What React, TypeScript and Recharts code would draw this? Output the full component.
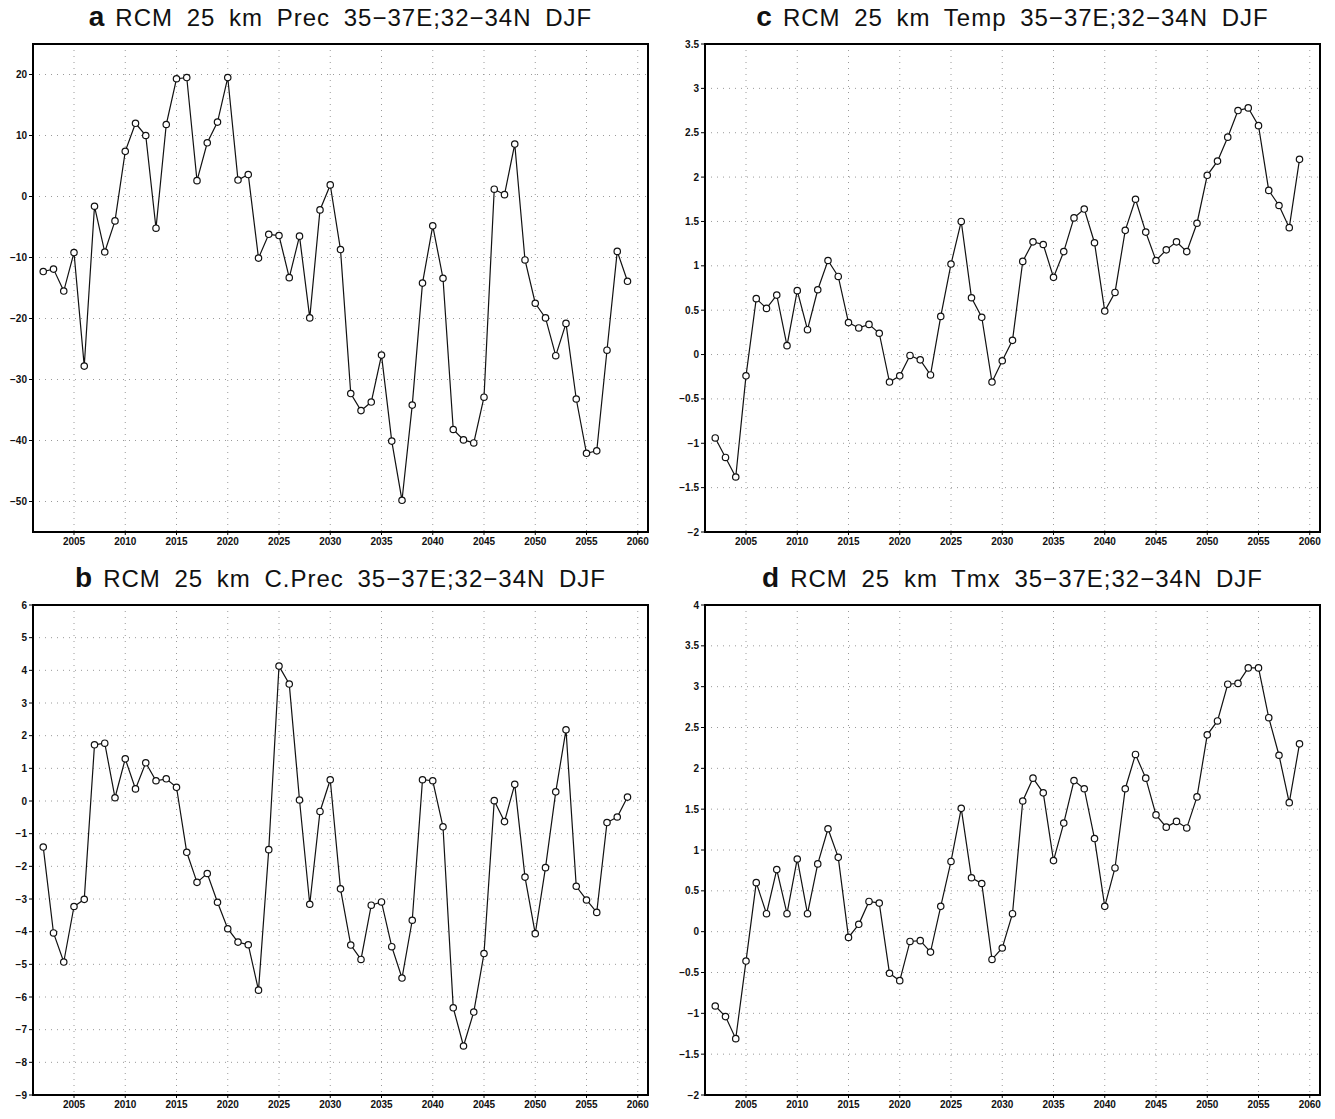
import React from 'react';
import { LineChart, Line, XAxis, YAxis, CartesianGrid } from 'recharts';

// years 2002..2059, one value per DJF season
const years = [
  2002, 2003, 2004, 2005, 2006, 2007, 2008, 2009, 2010, 2011,
  2012, 2013, 2014, 2015, 2016, 2017, 2018, 2019, 2020, 2021,
  2022, 2023, 2024, 2025, 2026, 2027, 2028, 2029, 2030, 2031,
  2032, 2033, 2034, 2035, 2036, 2037, 2038, 2039, 2040, 2041,
  2042, 2043, 2044, 2045, 2046, 2047, 2048, 2049, 2050, 2051,
  2052, 2053, 2054, 2055, 2056, 2057, 2058, 2059,
];

const precValues = [
  -12.3, -11.9, -15.5, -9.2, -27.8, -1.6, -9.1, -4.0, 7.4, 12.0,
  10.0, -5.2, 11.8, 19.3, 19.5, 2.6, 8.8, 12.2, 19.5, 2.7,
  3.6, -10.1, -6.2, -6.4, -13.3, -6.5, -19.9, -2.2, 1.9, -8.7,
  -32.3, -35.1, -33.7, -26.0, -40.1, -49.8, -34.2, -14.2, -4.8, -13.4,
  -38.2, -39.9, -40.4, -32.9, 1.2, 0.3, 8.6, -10.4, -17.5, -19.9,
  -26.1, -20.8, -33.2, -42.1, -41.7, -25.2, -9.0, -13.9,
];

const cPrecValues = [
  -1.41, -4.04, -4.93, -3.23, -3.01, 1.72, 1.77, 0.1, 1.29, 0.37,
  1.17, 0.62, 0.68, 0.42, -1.57, -2.49, -2.22, -3.1, -3.91, -4.32,
  -4.4, -5.79, -1.49, 4.13, 3.58, 0.03, -3.16, -0.32, 0.65, -2.69,
  -4.41, -4.85, -3.19, -3.09, -4.46, -5.42, -3.65, 0.65, 0.62, -0.79,
  -6.33, -7.5, -6.46, -4.67, 0.01, -0.63, 0.51, -2.33, -4.06, -2.04,
  0.28, 2.18, -2.61, -3.03, -3.41, -0.66, -0.49, 0.12,
];

const tempValues = [
  -0.94, -1.16, -1.38, -0.24, 0.63, 0.52, 0.67, 0.1, 0.72, 0.28,
  0.73, 1.06, 0.88, 0.36, 0.3, 0.34, 0.24, -0.31, -0.24, -0.01,
  -0.06, -0.23, 0.43, 1.02, 1.5, 0.64, 0.42, -0.31, -0.07, 0.16,
  1.05, 1.27, 1.24, 0.87, 1.16, 1.54, 1.64, 1.26, 0.49, 0.7,
  1.4, 1.75, 1.38, 1.06, 1.18, 1.27, 1.16, 1.48, 2.02, 2.18,
  2.45, 2.75, 2.78, 2.58, 1.85, 1.68, 1.43, 2.2,
];

const tmxValues = [
  -0.91, -1.04, -1.31, -0.36, 0.6, 0.22, 0.76, 0.22, 0.89, 0.22,
  0.83, 1.26, 0.91, -0.07, 0.09, 0.37, 0.35, -0.51, -0.6, -0.12,
  -0.11, -0.25, 0.31, 0.86, 1.51, 0.66, 0.59, -0.34, -0.2, 0.22,
  1.6, 1.88, 1.7, 0.87, 1.33, 1.85, 1.75, 1.14, 0.31, 0.78,
  1.75, 2.17, 1.88, 1.43, 1.28, 1.35, 1.27, 1.65, 2.41, 2.58,
  3.03, 3.04, 3.23, 3.23, 2.62, 2.16, 1.58, 2.3,
];

const xTicks = [2005, 2010, 2015, 2020, 2025, 2030, 2035, 2040, 2045, 2050, 2055, 2060];
const precTicks = [-50, -40, -30, -20, -10, 0, 10, 20];
const cPrecTicks = [-9, -8, -7, -6, -5, -4, -3, -2, -1, 0, 1, 2, 3, 4, 5, 6];
const tempTicks = [-2, -1.5, -1, -0.5, 0, 0.5, 1, 1.5, 2, 2.5, 3, 3.5];
const tmxTicks = [-2, -1.5, -1, -0.5, 0, 0.5, 1, 1.5, 2, 2.5, 3, 3.5, 4];

const PLOT_W = 615;
const tickStyle = { fontFamily: '"Liberation Sans", Arial, sans-serif', fontSize: 10, fontWeight: 700, fill: '#111' };
const fmt = (v: number) => String(v).replace('-', '\u2212');

interface PanelProps {
  letter: string;
  title: string;
  values: number[];
  ticks: number[];
  domain: [number, number];
  plotLeft: number;
  plotTop: number;
  plotH: number;
  axisW: number;
}

const Panel = ({ letter, title, values, ticks, domain, plotLeft, plotTop, plotH, axisW }: PanelProps) => {
  const data = years.map((y, i) => ({ year: y, v: values[i] }));
  const mTop = 5;
  const mRight = 6;
  const xH = 25;
  return (
    <>
      <div
        style={{
          position: 'absolute',
          left: plotLeft,
          top: plotTop - 42,
          width: PLOT_W,
          textAlign: 'center',
          fontFamily: '"Liberation Sans", Arial, sans-serif',
          fontSize: 24,
          lineHeight: '30px',
          wordSpacing: 6,
          letterSpacing: 1,
          color: '#111',
          whiteSpace: 'nowrap',
        }}
      >
        <span style={{ fontWeight: 700, fontSize: 28, marginRight: 10 }}>{letter}</span>
        {title}
      </div>
      <div style={{ position: 'absolute', left: plotLeft - axisW, top: plotTop - mTop }}>
        <LineChart
          width={axisW + PLOT_W + mRight}
          height={mTop + plotH + xH}
          data={data}
          margin={{ top: mTop, right: mRight, left: 0, bottom: 0 }}
        >
          <CartesianGrid stroke="#9a9a9a" strokeDasharray="1 5" />
          <XAxis
            dataKey="year"
            type="number"
            domain={[2001, 2061]}
            ticks={xTicks}
            height={xH}
            tick={tickStyle}
            tickSize={3}
            tickMargin={3}
            axisLine={{ stroke: '#000', strokeWidth: 2 }}
            tickLine={{ stroke: '#000' }}
            allowDataOverflow
          />
          <YAxis
            type="number"
            domain={domain}
            ticks={ticks}
            width={axisW}
            tick={tickStyle}
            tickFormatter={fmt}
            tickSize={4}
            tickMargin={2}
            axisLine={{ stroke: '#000', strokeWidth: 2 }}
            tickLine={{ stroke: '#000' }}
            interval={0}
            allowDataOverflow
          />
          <Line
            dataKey="v"
            type="linear"
            stroke="#111"
            strokeWidth={1.2}
            dot={{ r: 3.2, stroke: '#111', strokeWidth: 1.2, fill: '#fff' }}
            isAnimationActive={false}
          />
        </LineChart>
      </div>
      {/* box frame round the plot area */}
      <div
        style={{
          position: 'absolute',
          left: plotLeft - 1,
          top: plotTop - 1,
          width: PLOT_W + 2,
          height: plotH + 2,
          border: '2px solid #000',
          boxSizing: 'border-box',
          pointerEvents: 'none',
        }}
      />
    </>
  );
};

export default function App() {
  return (
    <div style={{ position: 'absolute', left: 0, top: 0, width: 1335, height: 1119, background: '#fff' }}>
      <Panel letter="a" title="RCM 25 km Prec 35−37E;32−34N DJF" values={precValues} ticks={precTicks}
        domain={[-55, 25]} plotLeft={33} plotTop={44} plotH={488} axisW={33} />
      <Panel letter="c" title="RCM 25 km Temp 35−37E;32−34N DJF" values={tempValues} ticks={tempTicks}
        domain={[-2, 3.5]} plotLeft={705} plotTop={44} plotH={488} axisW={45} />
      <Panel letter="b" title="RCM 25 km C.Prec 35−37E;32−34N DJF" values={cPrecValues} ticks={cPrecTicks}
        domain={[-9, 6]} plotLeft={33} plotTop={605} plotH={490} axisW={33} />
      <Panel letter="d" title="RCM 25 km Tmx 35−37E;32−34N DJF" values={tmxValues} ticks={tmxTicks}
        domain={[-2, 4]} plotLeft={705} plotTop={605} plotH={490} axisW={45} />
    </div>
  );
}
